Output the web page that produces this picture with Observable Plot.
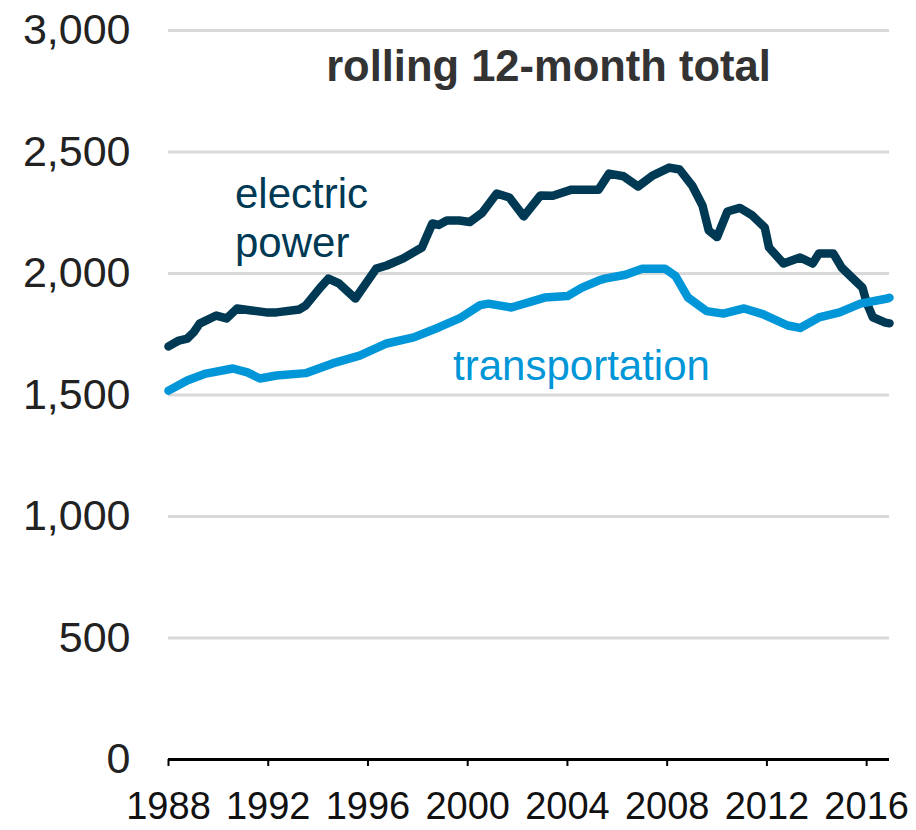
<!DOCTYPE html>
<html><head><meta charset="utf-8">
<script src="https://cdn.jsdelivr.net/npm/d3@7"></script>
<script src="https://cdn.jsdelivr.net/npm/@observablehq/plot@0.6"></script>
<style>body{margin:0;background:#fff}</style>
</head><body><div id="chart"></div>
<script>
const electricMonths = ["1988-01","1988-06","1988-10","1989-01","1989-04","1989-05","1989-12","1990-05","1990-10","1991-05","1991-12","1992-05","1993-04","1993-07","1994-02","1994-06","1994-11","1995-07","1996-05","1996-10","1997-06","1998-03","1998-08","1998-11","1999-03","1999-09","2000-02","2000-08","2001-03","2001-09","2002-04","2002-12","2003-06","2004-03","2004-07","2005-04","2005-09","2006-04","2006-11","2007-06","2008-02","2008-07","2009-01","2009-06","2009-09","2010-01","2010-06","2010-12","2011-06","2011-12","2012-02","2012-09","2013-05","2013-11","2014-02","2014-09","2015-01","2015-06","2015-11","2016-01","2016-04","2016-10","2016-12"];
const electricValues = [1700,1724,1732,1757,1794,1798,1827,1815,1856,1848,1840,1840,1852,1868,1942,1979,1959,1897,2020,2033,2062,2107,2206,2200,2218,2218,2212,2250,2329,2313,2235,2321,2320,2345,2345,2345,2411,2400,2358,2403,2436,2428,2362,2280,2177,2150,2255,2270,2239,2189,2107,2041,2066,2041,2082,2082,2024,1983,1942,1880,1820,1798,1795];

const transportMonths = ["1988-01","1988-10","1989-07","1990-08","1991-03","1991-09","1992-05","1993-07","1994-08","1995-09","1996-10","1997-11","1998-11","1999-09","2000-07","2000-11","2001-10","2003-02","2004-01","2004-08","2005-04","2005-07","2006-05","2007-01","2007-12","2008-05","2008-11","2009-08","2010-04","2011-02","2011-11","2012-11","2013-05","2014-02","2014-12","2015-10","2016-11","2016-12"];
const transportValues = [1518,1560,1588,1609,1593,1568,1580,1590,1630,1662,1712,1737,1778,1815,1870,1876,1860,1901,1907,1942,1971,1979,1995,2020,2020,1990,1901,1845,1835,1856,1833,1786,1776,1819,1840,1876,1897,1900];

const yTicks = [0, 500, 1000, 1500, 2000, 2500, 3000];
const xTickYears = [1988, 1992, 1996, 2000, 2004, 2008, 2012, 2016];
const titleText = ["rolling 12-month total"];
const electricLabel = ["electric\npower"];
const transportLabel = ["transportation"];

const parse = d3.utcParse("%Y-%m");
const electric = electricMonths.map((m, i) => ({date: parse(m), value: electricValues[i]}));
const transport = transportMonths.map((m, i) => ({date: parse(m), value: transportValues[i]}));
const xTicks = xTickYears.map(y => new Date(Date.UTC(y, 0, 1)));

const chart = Plot.plot({
  width: 916, height: 830,
  marginLeft: 168, marginRight: 27, marginTop: 30, marginBottom: 71,
  style: {fontFamily: "'Liberation Sans', Arial, sans-serif", background: "#fff", overflow: "visible"},
  x: {type: "utc", domain: [parse("1988-01"), parse("2016-12")]},
  y: {domain: [0, 3000]},
  marks: [
    Plot.ruleY(yTicks.filter(d => d > 0), {stroke: "#d9d9d9", strokeWidth: 3}),
    Plot.axisY({ticks: yTicks, tickSize: 0, tickPadding: 38, fontSize: 43, tickFormat: d3.format(","), label: null, fill: "#222"}),
    Plot.axisX({ticks: xTicks, tickSize: 7, tickPadding: 26, fontSize: 38, tickFormat: d3.utcFormat("%Y"), label: null, fill: "#111", stroke: "#000", strokeWidth: 2}),
    Plot.ruleY([0], {stroke: "#000", strokeWidth: 3}),
    Plot.lineY(electric, {x: "date", y: "value", stroke: "#003953", strokeWidth: 8.5, strokeLinejoin: "round"}),
    Plot.lineY(transport, {x: "date", y: "value", stroke: "#0096d7", strokeWidth: 8.5, strokeLinejoin: "round"}),
    Plot.text(titleText, {text: d => d, frameAnchor: "top", lineAnchor: "middle", dx: 19.5, dy: 36.6, fontSize: 43.5, fontWeight: "bold", fill: "#333"}),
    Plot.text(electricLabel, {text: d => d, x: () => parse("1990-09"), y: () => 2411, textAnchor: "start", lineAnchor: "top", lineHeight: 1.167, fontSize: 42, fill: "#003953"}),
    Plot.text(transportLabel, {text: d => d, x: () => parse("1999-06"), y: () => 1683, textAnchor: "start", lineAnchor: "top", fontSize: 42, fill: "#0096d7"})
  ]
});
document.getElementById("chart").append(chart);
</script>
</body></html>
